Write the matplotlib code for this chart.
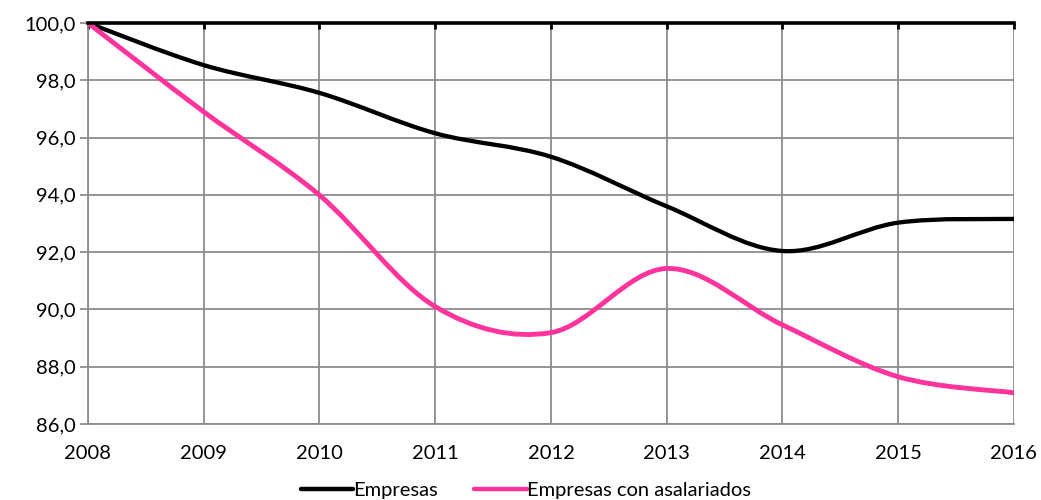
import numpy as np
import matplotlib.pyplot as plt
from matplotlib.path import Path
from matplotlib.patches import PathPatch
from matplotlib.lines import Line2D

years = [2008, 2009, 2010, 2011, 2012, 2013, 2014, 2015, 2016]
empresas = [100.0, 98.53, 97.56, 96.15, 95.33, 93.60, 92.04, 93.03, 93.16]
asalariados = [100.0, 96.90, 93.99, 90.10, 89.19, 91.43, 89.46, 87.65, 87.09]
yticks = [86, 88, 90, 92, 94, 96, 98, 100]
ytick_labels = ["86,0", "88,0", "90,0", "92,0", "94,0", "96,0", "98,0", "100,0"]
names = ["Empresas", "Empresas con asalariados"]
colors = ["#000000", "#FF339C"]

plt.rcParams['font.family'] = ['Lato', 'DejaVu Sans']


def smooth_path(x, y):
    # bezier segments like excel's "smoothed line"
    pts = np.column_stack([x, y]).astype(float)
    ext = np.vstack([pts[0], pts, pts[-1]])
    verts = [pts[0]]
    codes = [Path.MOVETO]
    for i in range(len(pts) - 1):
        p0, p1, p2, p3 = ext[i], ext[i + 1], ext[i + 2], ext[i + 3]
        c1 = p1 + (p2 - p0) / 6.0
        c2 = p2 - (p3 - p1) / 6.0
        verts += [c1, c2, p2]
        codes += [Path.CURVE4] * 3
    return Path(verts, codes)


fig = plt.figure(figsize=(10.41, 5.0), dpi=100)
ax = fig.add_axes([0.0845, 0.152, 0.8895, 0.802])

for vals, c, lw in zip([empresas, asalariados], colors, [3.1, 3.5]):
    ax.add_patch(PathPatch(smooth_path(years, vals), fill=False, edgecolor=c,
                           lw=lw, capstyle='round', zorder=3))

ax.set_xlim(2008, 2016)
ax.set_ylim(86, 100)
ax.set_xticks(years)
ax.set_xticklabels([str(y) for y in years])
ax.set_yticks(yticks)
ax.set_yticklabels(ytick_labels)

grid_c = '#8c8c8c'
ax.grid(True, color=grid_c, lw=1.3)
ax.set_axisbelow(True)
for s in ['left', 'bottom']:
    ax.spines[s].set_color(grid_c)
    ax.spines[s].set_linewidth(1.3)
ax.spines['right'].set_visible(False)
ax.spines['top'].set_color('black')
ax.spines['top'].set_linewidth(2.6)
ax.spines['top'].set_zorder(4)

ax.tick_params(axis='x', bottom=False, top=True, direction='in', length=4,
               width=2, color='black', labelsize=14.5, pad=15)
ax.tick_params(axis='y', left=True, direction='out', length=6, width=1.3,
               color=grid_c, labelsize=14.5, pad=3)

handles = [Line2D([], [], color=c, lw=3.2, solid_capstyle='round') for c in colors]
fig.legend(handles, names, loc='lower center', bbox_to_anchor=(0.505, -0.035), ncol=2,
           frameon=False, fontsize=14.5, handlelength=2.6, handletextpad=0.0,
           columnspacing=1.8)

fig.savefig('out.png', dpi=100)
